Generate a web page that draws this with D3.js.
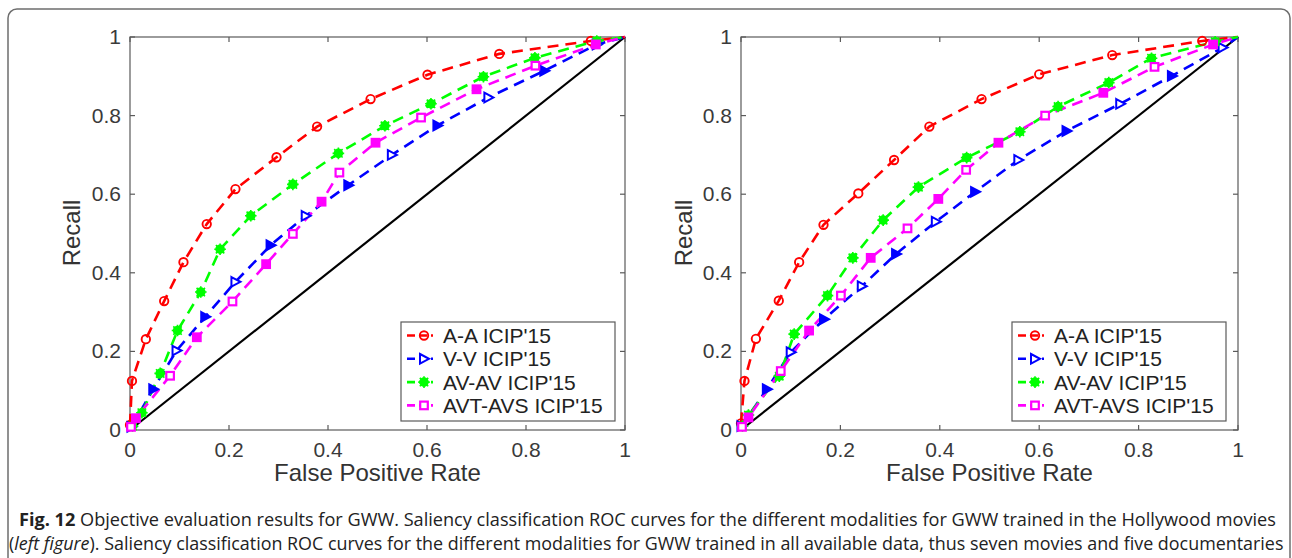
<!DOCTYPE html>
<html>
<meta charset="utf-8">
<head>
<script src="https://d3js.org/d3.v7.min.js"></script>
<style>
  body { margin: 0; background: #fff; }
  svg text { font-family: "Liberation Sans", Arimo, Arial, sans-serif; }
</style>
</head>
<body>
<div id="my_dataviz"></div>
<script>

// axis ticks (both figures)
var tickValues = [0, 0.2, 0.4, 0.6, 0.8, 1]
var tickLabels = ["0", "0.2", "0.4", "0.6", "0.8", "1"]

var seriesNames = ["A-A ICIP'15", "V-V ICIP'15", "AV-AV ICIP'15", "AVT-AVS ICIP'15"]
var seriesColors = ["#ff0000", "#0000ff", "#00ff00", "#ff00ff"]
var seriesMarkers = ["circle", "triangle", "blob", "square"]

// left figure: trained in Hollywood movies  [FPR, recall]
var leftAA = [[0,0.013],[0.004,0.125],[0.032,0.231],[0.069,0.328],[0.108,0.427],[0.155,0.524],[0.213,0.613],[0.296,0.694],[0.378,0.772],[0.486,0.842],[0.601,0.904],[0.746,0.957],[0.931,0.99],[1,1]]
var leftVV = [[0.003,0.008],[0.047,0.104],[0.094,0.202],[0.152,0.288],[0.213,0.377],[0.284,0.47],[0.355,0.545],[0.441,0.623],[0.529,0.7],[0.621,0.775],[0.724,0.846],[0.837,0.914],[0.943,0.981],[1,1]]
var leftAVAV = [[0.005,0.01],[0.024,0.044],[0.061,0.144],[0.096,0.253],[0.143,0.351],[0.182,0.46],[0.244,0.545],[0.329,0.625],[0.421,0.704],[0.515,0.774],[0.608,0.83],[0.714,0.899],[0.818,0.947],[0.943,0.99],[1,1]]
var leftAVTAVS = [[0.002,0.008],[0.012,0.03],[0.081,0.138],[0.135,0.236],[0.207,0.327],[0.275,0.422],[0.329,0.499],[0.387,0.581],[0.423,0.655],[0.496,0.731],[0.588,0.795],[0.7,0.867],[0.819,0.927],[0.941,0.981],[1,1]]

// right figure: trained in all available data  [FPR, recall]
var rightAA = [[0,0.017],[0.007,0.125],[0.03,0.232],[0.076,0.329],[0.117,0.427],[0.166,0.522],[0.236,0.602],[0.308,0.687],[0.379,0.772],[0.484,0.842],[0.6,0.905],[0.747,0.954],[0.928,0.99],[1,1]]
var rightVV = [[0.001,0.01],[0.052,0.104],[0.1,0.198],[0.167,0.282],[0.243,0.366],[0.312,0.448],[0.392,0.53],[0.471,0.606],[0.558,0.687],[0.655,0.761],[0.763,0.83],[0.867,0.901],[0.969,0.973],[1,1]]
var rightAVAV = [[0.003,0.01],[0.015,0.038],[0.077,0.137],[0.107,0.244],[0.174,0.342],[0.225,0.438],[0.286,0.534],[0.357,0.618],[0.454,0.693],[0.561,0.759],[0.638,0.823],[0.74,0.884],[0.826,0.946],[0.954,0.988],[1,1]]
var rightAVTAVS = [[0.002,0.008],[0.015,0.032],[0.08,0.15],[0.137,0.253],[0.201,0.342],[0.261,0.438],[0.335,0.513],[0.397,0.588],[0.453,0.662],[0.518,0.731],[0.612,0.8],[0.729,0.858],[0.832,0.924],[0.95,0.981],[1,1]]

var captionBold = "Fig. 12"
var captionLine1 = "Objective evaluation results for GWW. Saliency classification ROC curves for the different modalities for GWW trained in the Hollywood movies"
var captionLine2a = "("
var captionLine2i = "left figure"
var captionLine2b = "). Saliency classification ROC curves for the different modalities for GWW trained in all available data, thus seven movies and five documentaries"

var W = 1292, H = 558

var svg = d3.select("#my_dataviz")
  .append("svg")
    .attr("width", W)
    .attr("height", H)

// rounded frame around figure + caption
svg.append("rect")
  .attr("x", 8).attr("y", 9)
  .attr("width", 1282).attr("height", 600)
  .attr("rx", 9)
  .attr("fill", "none")
  .attr("stroke", "#6e6e6e")
  .attr("stroke-width", 1.5)

function drawMarker(g, type, color, filled) {
  if (type == "circle") {
    g.append("circle").attr("r", 4.2)
      .attr("fill", "none")
      .attr("stroke", color).attr("stroke-width", 1.9)
  } else if (type == "triangle") {
    g.append("path").attr("d", "M-4,-4.8L5,0L-4,4.8Z")
      .attr("fill", filled ? color : "#fff")
      .attr("stroke", color).attr("stroke-width", 2)
  } else if (type == "blob") {
    g.append("circle").attr("r", 4.8).attr("fill", color)
    g.append("path").attr("d", "M-5.8,0H5.8M0,-5.8V5.8M-4.2,-4.2L4.2,4.2M-4.2,4.2L4.2,-4.2")
      .attr("stroke", color).attr("stroke-width", 1.6)
  } else {
    g.append("rect").attr("x", -3.8).attr("y", -3.8).attr("width", 7.6).attr("height", 7.6)
      .attr("fill", filled ? color : "#fff")
      .attr("stroke", color).attr("stroke-width", 2.2)
  }
}

function drawPanel(left, right, series, legendX, recallX) {
  var top = 37, bottom = 430

  var x = d3.scaleLinear().domain([0, 1]).range([left, right])
  var y = d3.scaleLinear().domain([0, 1]).range([bottom, top])

  var g = svg.append("g")

  // box
  g.append("rect")
    .attr("x", left).attr("y", top)
    .attr("width", right - left).attr("height", bottom - top)
    .attr("fill", "#fff")
    .attr("stroke", "#5a5a5a").attr("stroke-width", 1.2)

  // inward ticks on all four sides
  var tl = 5
  tickValues.forEach(function(t) {
    g.append("line").attr("x1", x(t)).attr("x2", x(t)).attr("y1", bottom).attr("y2", bottom - tl)
      .attr("stroke", "#5a5a5a").attr("stroke-width", 1.2)
    g.append("line").attr("x1", x(t)).attr("x2", x(t)).attr("y1", top).attr("y2", top + tl)
      .attr("stroke", "#5a5a5a").attr("stroke-width", 1.2)
    g.append("line").attr("y1", y(t)).attr("y2", y(t)).attr("x1", left).attr("x2", left + tl)
      .attr("stroke", "#5a5a5a").attr("stroke-width", 1.2)
    g.append("line").attr("y1", y(t)).attr("y2", y(t)).attr("x1", right).attr("x2", right - tl)
      .attr("stroke", "#5a5a5a").attr("stroke-width", 1.2)
  })

  // tick labels
  g.selectAll(".xl").data(tickValues).enter().append("text")
    .attr("x", function(d) { return x(d) })
    .attr("y", bottom + 27)
    .attr("text-anchor", "middle")
    .attr("font-size", 21)
    .attr("fill", "#3a3a3a")
    .text(function(d, i) { return tickLabels[i] })

  g.selectAll(".yl").data(tickValues).enter().append("text")
    .attr("x", left - 9)
    .attr("y", function(d) { return y(d) + 7 })
    .attr("text-anchor", "end")
    .attr("font-size", 21)
    .attr("fill", "#3a3a3a")
    .text(function(d, i) { return tickLabels[i] })

  // axis titles
  g.append("text")
    .attr("x", (left + right) / 2)
    .attr("y", 481)
    .attr("text-anchor", "middle")
    .attr("font-size", 24)
    .attr("fill", "#333")
    .text("False Positive Rate")

  g.append("text")
    .attr("transform", "translate(" + recallX + "," + 233 + ") rotate(-90)")
    .attr("text-anchor", "middle")
    .attr("font-size", 24)
    .attr("fill", "#333")
    .text("Recall")

  // chance diagonal
  g.append("path")
    .datum([[0, 0], [1, 1]])
    .attr("d", d3.line().x(function(d) { return x(d[0]) }).y(function(d) { return y(d[1]) }))
    .attr("stroke", "#000").attr("stroke-width", 2.2).attr("fill", "none")

  // curves
  series.forEach(function(data, si) {
    g.append("path")
      .datum(data)
      .attr("d", d3.line().x(function(d) { return x(d[0]) }).y(function(d) { return y(d[1]) }))
      .attr("stroke", seriesColors[si])
      .attr("stroke-width", 2.6)
      .attr("stroke-dasharray", "11,7")
      .attr("fill", "none")
  })
  series.forEach(function(data, si) {
    data.forEach(function(d, i) {
      if (d[0] == 1 && d[1] == 1) return
      var m = g.append("g").attr("transform", "translate(" + x(d[0]) + "," + y(d[1]) + ")")
      drawMarker(m, seriesMarkers[si], seriesColors[si], i % 2 == 1)
    })
  })

  // legend
  var lg = g.append("g").attr("transform", "translate(" + legendX + ",322)")
  lg.append("rect").attr("width", 214).attr("height", 99)
    .attr("fill", "#fff").attr("stroke", "#5a5a5a").attr("stroke-width", 1.2)
  seriesNames.forEach(function(name, si) {
    var cy = 13.5 + si * 23.3
    lg.append("line").attr("x1", 6).attr("x2", 32).attr("y1", cy).attr("y2", cy)
      .attr("stroke", seriesColors[si]).attr("stroke-width", 2.6)
      .attr("stroke-dasharray", "8,4")
    var m = lg.append("g").attr("transform", "translate(23," + cy + ")")
    drawMarker(m, seriesMarkers[si], seriesColors[si], false)
    lg.append("text").attr("x", 42).attr("y", cy + 7.5)
      .attr("font-size", 21).attr("fill", "#222")
      .text(name)
  })
}

drawPanel(130, 625, [leftAA, leftVV, leftAVAV, leftAVTAVS], 401, 80)
drawPanel(741, 1238, [rightAA, rightVV, rightAVAV, rightAVTAVS], 1012, 692)

// caption: text is drawn at natural width, then squeezed horizontally to fit
var capFont = '"Open Sans", sans-serif'

function squeezed(x0, x1, yb, build) {
  var g = svg.append("g")
  var t = g.append("text")
    .attr("x", 0).attr("y", 0)
    .attr("font-size", 17.5)
    .style("font-family", capFont)
    .attr("fill", "#222")
  build(t)
  var w = t.node().getComputedTextLength()
  g.attr("transform", "translate(" + x0 + "," + yb + ") scale(" + ((x1 - x0) / w) + ",1)")
}

squeezed(19, 1277, 526, function(t) {
  t.append("tspan").attr("font-weight", "bold").text(captionBold + " ")
  t.append("tspan").text(captionLine1)
})
squeezed(9, 1285, 550, function(t) {
  t.append("tspan").text(captionLine2a)
  t.append("tspan").attr("font-style", "italic").text(captionLine2i)
  t.append("tspan").text(captionLine2b)
})

</script>
</body>
</html>
